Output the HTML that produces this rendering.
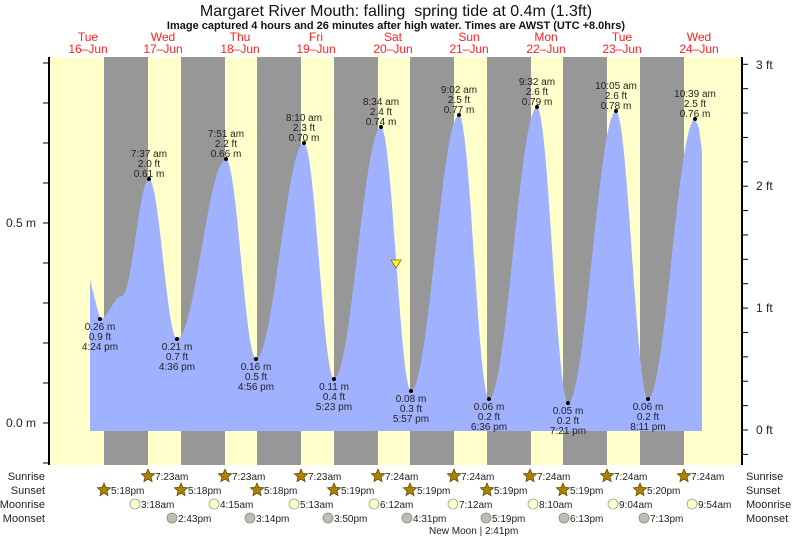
<!DOCTYPE html>
<html><head><meta charset="utf-8"><style>
body{margin:0;background:#fff;}
svg{display:block;font-family:"Liberation Sans",sans-serif;}
</style></head><body>
<svg id="s" width="793" height="539" viewBox="0 0 793 539" xmlns="http://www.w3.org/2000/svg">
<rect x="49" y="57" width="693" height="408" fill="#ffffcc"/>
<g fill="#979797">
<rect x="104" y="57" width="44" height="408"/><rect x="181" y="57" width="44" height="408"/>
<rect x="257" y="57" width="44" height="408"/><rect x="334" y="57" width="44" height="408"/>
<rect x="410" y="57" width="44" height="408"/><rect x="487" y="57" width="44" height="408"/>
<rect x="563" y="57" width="44" height="408"/><rect x="640" y="57" width="44" height="408"/>
</g>
<path id="tide" fill="#a0b2ff" d=""/>
<g id="lbl" font-size="10" fill="#222" text-anchor="middle"></g>
<polygon points="391,260 401,260 396,268" fill="#ffff33" stroke="#886600" stroke-width="0.8"/>
<line x1="49" y1="57" x2="49" y2="465" stroke="#000" stroke-width="2"/>
<line x1="742" y1="57" x2="742" y2="465" stroke="#000" stroke-width="2"/>
<g id="ticks" stroke="#000" stroke-width="1"></g>
<text x="396" y="16" font-size="16" text-anchor="middle" fill="#111">Margaret River Mouth: falling&#160;&#160;spring tide at 0.4m (1.3ft)</text>
<text x="396" y="29" font-size="11" font-weight="bold" text-anchor="middle" fill="#111">Image captured 4 hours and 26 minutes after high water. Times are AWST (UTC +8.0hrs)</text>
<g font-size="12" fill="#ff2020" text-anchor="middle" id="days"></g>
<g font-size="12" fill="#222">
<text x="36" y="227" text-anchor="end">0.5 m</text>
<text x="36" y="427" text-anchor="end">0.0 m</text>
<text x="756" y="69">3 ft</text><text x="756" y="190">2 ft</text>
<text x="756" y="312">1 ft</text><text x="756" y="434">0 ft</text>
</g>
<g font-size="11" fill="#222" text-anchor="end">
<text x="45" y="480">Sunrise</text><text x="45" y="494">Sunset</text>
<text x="45" y="508">Moonrise</text><text x="45" y="522">Moonset</text>
</g>
<g font-size="11" fill="#222">
<text x="746" y="480">Sunrise</text><text x="746" y="494">Sunset</text>
<text x="746" y="508">Moonrise</text><text x="746" y="522">Moonset</text>
</g>
<g id="ev" font-size="10" fill="#222"></g>
<text x="429" y="534" font-size="10" fill="#222">New Moon | 2:41pm</text>
</svg>
<script>
var NS="http://www.w3.org/2000/svg";
function el(p,t,a,txt){var e=document.createElementNS(NS,t);for(var k in a)e.setAttribute(k,a[k]);if(txt)e.textContent=txt;p.appendChild(e);return e;}
var pts=[[100,319],[122,296],[149,179],[177,339],[226,159],[256,359],[304,143],[334,379],[381,127],[411,391],[459,115],[489,399],[537,107],[568,403],[616,111],[648,399],[695,119]];
var d="M90,431 L90,280 L100,319";
for(var i=0;i<pts.length-1;i++){var a=pts[i],b=pts[i+1];for(var s=1;s<=16;s++){var t=s/16;var x=a[0]+(b[0]-a[0])*t;var y=a[1]+(b[1]-a[1])*(1-Math.cos(Math.PI*t))/2;d+=" L"+x.toFixed(1)+","+y.toFixed(1);}}
d+=" L699,128 L702,152 L702,431 Z";
document.getElementById("tide").setAttribute("d",d);
var L=document.getElementById("lbl");
var ext=[[100,319,0,"0.26 m","0.9 ft","4:24 pm"],[149,179,1,"7:37 am","2.0 ft","0.61 m"],[177,339,0,"0.21 m","0.7 ft","4:36 pm"],[226,159,1,"7:51 am","2.2 ft","0.66 m"],[256,359,0,"0.16 m","0.5 ft","4:56 pm"],[304,143,1,"8:10 am","2.3 ft","0.70 m"],[334,379,0,"0.11 m","0.4 ft","5:23 pm"],[381,127,1,"8:34 am","2.4 ft","0.74 m"],[411,391,0,"0.08 m","0.3 ft","5:57 pm"],[459,115,1,"9:02 am","2.5 ft","0.77 m"],[489,399,0,"0.06 m","0.2 ft","6:36 pm"],[537,107,1,"9:32 am","2.6 ft","0.79 m"],[568,403,0,"0.05 m","0.2 ft","7:21 pm"],[616,111,1,"10:05 am","2.6 ft","0.78 m"],[648,399,0,"0.06 m","0.2 ft","8:11 pm"],[695,119,1,"10:39 am","2.5 ft","0.76 m"]];
ext.forEach(function(e){el(L,"circle",{cx:e[0],cy:e[1],r:2,fill:"#000"});
var o=e[2]?[-22,-12,-2]:[11,21,31];for(var j=0;j<3;j++)el(L,"text",{x:e[0],y:e[1]+o[j]},e[3+j]);});
var T=document.getElementById("ticks");
for(var y=63;y<=463;y+=40)el(T,"line",{x1:43,y1:y,x2:49,y2:y});
for(var k=-1;k<=16;k++){var yy=430-k*24.38;if(yy>57&&yy<466)el(T,"line",{x1:742,y1:yy,x2:748,y2:yy});}
var D=document.getElementById("days");
[["Tue","16\u2013Jun",88],["Wed","17\u2013Jun",163],["Thu","18\u2013Jun",240],["Fri","19\u2013Jun",316],["Sat","20\u2013Jun",393],["Sun","21\u2013Jun",469],["Mon","22\u2013Jun",546],["Tue","23\u2013Jun",622],["Wed","24\u2013Jun",699]].forEach(function(a){el(D,"text",{x:a[2],y:41},a[0]);el(D,"text",{x:a[2],y:53},a[1]);});
var E=document.getElementById("ev");
function star(cx,cy){var p="";for(var i=0;i<10;i++){var r=i%2?3.2:7,an=-Math.PI/2+i*Math.PI/5;p+=(cx+r*Math.cos(an)).toFixed(1)+","+(cy+r*Math.sin(an)).toFixed(1)+" ";}el(E,"polygon",{points:p,fill:"#b08000",stroke:"#554400","stroke-width":0.7});}
var sr=[148,225,301,378,454,530,607,684],sst=["7:23am","7:23am","7:23am","7:24am","7:24am","7:24am","7:24am","7:24am"];
sr.forEach(function(x,i){star(x,476);el(E,"text",{x:x+7,y:480},sst[i]);});
var ss=[104,181,257,334,410,487,563,640],sst2=["5:18pm","5:18pm","5:18pm","5:19pm","5:19pm","5:19pm","5:19pm","5:20pm"];
ss.forEach(function(x,i){star(x,490);el(E,"text",{x:x+7,y:494},sst2[i]);});
var mr=[135,214,294,374,453,533,613,692],mrt=["3:18am","4:15am","5:13am","6:12am","7:12am","8:10am","9:04am","9:54am"];
mr.forEach(function(x,i){el(E,"circle",{cx:x,cy:504,r:5,fill:"#ffffcc",stroke:"#999","stroke-width":0.8});el(E,"text",{x:x+6,y:508},mrt[i]);});
var ms=[172,250,328,407,486,564,644],mst=["2:43pm","3:14pm","3:50pm","4:31pm","5:19pm","6:13pm","7:13pm"];
ms.forEach(function(x,i){el(E,"circle",{cx:x,cy:518,r:5,fill:"#c0bdb0",stroke:"#888","stroke-width":0.8});el(E,"text",{x:x+6,y:522},mst[i]);});
</script>
</body></html>
